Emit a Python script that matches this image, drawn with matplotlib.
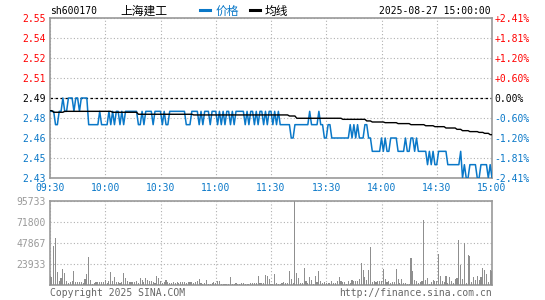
import numpy as np
import matplotlib
matplotlib.use("Agg")
import matplotlib.pyplot as plt
from matplotlib.lines import Line2D

# sh600170 intraday, 2025-08-27
code = "sh600170"
name = "上海建工"
stamp = "2025-08-27 15:00:00"
prev_close = 2.49

# price per minute as (price, minutes) runs
price_runs = [
    (2.48, 3), (2.47, 2), (2.48, 2), (2.49, 1), (2.48, 2), (2.49, 3), (2.48, 1),
    (2.49, 2), (2.48, 1), (2.49, 4), (2.47, 6), (2.48, 1), (2.47, 4), (2.48, 1),
    (2.47, 1), (2.48, 1), (2.47, 1), (2.48, 2), (2.47, 1), (2.48, 1), (2.47, 1),
    (2.48, 7), (2.47, 2), (2.48, 1), (2.47, 1), (2.48, 4), (2.47, 1), (2.48, 4),
    (2.47, 1), (2.48, 1), (2.47, 2), (2.48, 9), (2.47, 3), (2.48, 4), (2.47, 1),
    (2.48, 1), (2.47, 1), (2.48, 3), (2.47, 1), (2.48, 3), (2.47, 1), (2.48, 1),
    (2.47, 1), (2.48, 1), (2.47, 1), (2.48, 2), (2.47, 1), (2.48, 1), (2.47, 1),
    (2.48, 5), (2.47, 1), (2.48, 1), (2.47, 1), (2.48, 2), (2.47, 1), (2.48, 1),
    (2.47, 1), (2.48, 2), (2.47, 1), (2.48, 1), (2.47, 1), (2.48, 2), (2.47, 1),
    (2.48, 1), (2.47, 1), (2.48, 1), (2.47, 6), (2.46, 2), (2.47, 8), (2.48, 1),
    (2.47, 4), (2.48, 1), (2.47, 2), (2.46, 2), (2.47, 2), (2.46, 10), (2.47, 1),
    (2.46, 1), (2.47, 1), (2.46, 1), (2.47, 1), (2.46, 3), (2.47, 2), (2.46, 2),
    (2.45, 5), (2.46, 1), (2.45, 1), (2.46, 1), (2.45, 2), (2.46, 4), (2.45, 4),
    (2.46, 1), (2.45, 2), (2.46, 2), (2.45, 1), (2.46, 1), (2.45, 5), (2.44, 1),
    (2.45, 1), (2.44, 1), (2.45, 1), (2.44, 2), (2.45, 5), (2.44, 7), (2.45, 1),
    (2.43, 1), (2.44, 1), (2.43, 2), (2.44, 4), (2.43, 2), (2.44, 4), (2.43, 1),
    (2.44, 1), (2.43, 1),
]

# average price line as (value, minutes) runs
avg_runs = [
    (2.4805, 2), (2.4793, 6), (2.4800, 26), (2.4793, 14), (2.4778, 30),
    (2.4773, 52), (2.4765, 4), (2.4748, 25), (2.4740, 13), (2.4728, 3),
    (2.4720, 7), (2.4715, 7), (2.4708, 7), (2.4700, 8), (2.4692, 5),
    (2.4685, 6), (2.4675, 6), (2.4665, 3), (2.4655, 4), (2.4648, 5),
    (2.4642, 3), (2.4635, 3), (2.4625, 2),
]

volume = [
    10000, 9000, 44500, 53600, 15000, 4500, 8000, 18000, 13500, 4500,
    2200, 3800, 4500, 16000, 3400, 3400, 3400, 3400, 2200, 6800,
    12500, 32000, 5700, 1500, 2200, 3400, 3400, 3400, 3400, 3400,
    5700, 2200, 4500, 14800, 4500, 9000, 3400, 3400, 2200, 3400,
    13700, 8000, 4500, 3400, 3400, 3400, 3400, 4500, 2200, 8000,
    5700, 3400, 8000, 5700, 4500, 4500, 3400, 2200, 10000, 8000,
    4500, 2200, 3400, 5700, 3400, 2200, 2200, 3400, 2200, 3400,
    2200, 3400, 3400, 3400, 2200, 3400, 3400, 3400, 2200, 3400,
    4500, 6800, 2200, 1500, 2200, 5700, 1500, 1500, 2200, 3400,
    2200, 4500, 4500, 1500, 1500, 1500, 1500, 1500, 9000, 1500,
    1500, 2200, 1500, 1500, 2200, 2200, 1500, 1500, 1500, 2200,
    2200, 2200, 2200, 10000, 2200, 2200, 2200, 11000, 10000, 6800,
    1500, 1500, 12500, 2200, 1500, 1500, 2200, 3400, 2200, 2200,
    16000, 6800, 2200, 95733, 13700, 8000, 2200, 2200, 19400, 4500,
    2200, 9000, 5700, 1500, 10000, 3400, 16000, 4500, 2200, 3400,
    2200, 2200, 2200, 4500, 2200, 2200, 4500, 9000, 4500, 3400,
    3400, 1500, 4500, 2200, 5700, 4500, 4500, 4500, 6800, 25000,
    17000, 9000, 5700, 17000, 43300, 3400, 4500, 3400, 4500, 4500,
    4500, 18000, 6800, 3400, 4500, 2200, 3400, 3400, 18000, 6800,
    2200, 6800, 2200, 2200, 1500, 700, 30800, 16000, 5700, 4500,
    2200, 3400, 4500, 74500, 5700, 8000, 1500, 3400, 5700, 4500,
    4500, 35300, 10000, 4500, 3400, 10000, 2200, 9000, 4500, 2200,
    6800, 8000, 51300, 22800, 6800, 47900, 2200, 34200, 33000, 3400,
    9000, 5700, 10000, 5700, 9000, 19400, 17000, 12500, 3400, 17000, 16000,
]

time_labels = ["09:30", "10:00", "10:30", "11:00", "11:30",
               "13:30", "14:00", "14:30", "15:00"]
price_labels = ["2.55", "2.54", "2.52", "2.51", "2.49", "2.48", "2.46", "2.45", "2.43"]
pct_labels = ["+2.41%", "+1.81%", "+1.20%", "+0.60%", "0.00%",
              "-0.60%", "-1.20%", "-1.81%", "-2.41%"]
vol_labels = ["23933", "47867", "71800", "95733"]

price = np.repeat([p for p, n in price_runs], [n for p, n in price_runs])
avg = np.repeat([p for p, n in avg_runs], [n for p, n in avg_runs])

BLUE = "#0a78c8"
RED = "#ff0000"
GRAY = "#999999"
MONO = "DejaVu Sans Mono"
CJK = ["Noto Sans CJK SC", "DejaVu Sans"]

W, H = 545, 300
fig = plt.figure(figsize=(W / 100, H / 100), dpi=100)
fig.patch.set_facecolor("white")


def box(x0, y0, x1, y1):
    return [x0 / W, 1 - y1 / H, (x1 - x0) / W, (y1 - y0) / H]


ax = fig.add_axes(box(50, 18, 492, 178))
axv = fig.add_axes(box(50, 201, 492, 285))

xt = np.linspace(0, 240, 9)
ylo, yhi = 2.43, 2.55
yt = np.linspace(yhi, ylo, 9)

for a in (ax, axv):
    a.set_xlim(0, 240)
    for s in a.spines.values():
        s.set_color(GRAY)
        s.set_linewidth(1.2)
    a.set_xticks(xt)
    a.tick_params(length=0)
    a.grid(True, color="#b0b0b0", linestyle=(0, (1, 2)), linewidth=0.8)
    a.set_axisbelow(True)

# price panel
ax.set_ylim(ylo, yhi)
ax.set_yticks(yt)
ax.set_yticklabels(price_labels, fontfamily=MONO, fontsize=7)
ax.set_xticklabels(time_labels, fontfamily=MONO, fontsize=7, color=BLUE)
ax.tick_params(axis="y", pad=3)
ax.tick_params(axis="x", pad=3.5)
for lab, v in zip(ax.get_yticklabels(), yt):
    lab.set_color(RED if v > prev_close + 1e-9 else (BLUE if v < prev_close - 1e-9 else "black"))

ax.axhline(prev_close, color="black", linestyle=(0, (2, 2)), linewidth=0.9, zorder=2)
ax.plot(np.arange(len(price)), price, color=BLUE, linewidth=1.1, zorder=3)
ax.plot(np.arange(len(avg)), avg, color="black", linewidth=1.0, zorder=4)

ax2 = ax.twinx()
ax2.set_ylim(ylo, yhi)
ax2.set_yticks(yt)
ax2.set_yticklabels(pct_labels, fontfamily=MONO, fontsize=7)
ax2.tick_params(length=0, pad=2)
for s in ax2.spines.values():
    s.set_visible(False)
for lab, v in zip(ax2.get_yticklabels(), yt):
    lab.set_color(RED if v > prev_close + 1e-9 else (BLUE if v < prev_close - 1e-9 else "black"))

# volume panel
vmax = 95733
axv.set_ylim(0, vmax)
axv.set_yticks(np.linspace(0, vmax, 5))
axv.set_yticklabels([""] + vol_labels, fontfamily=MONO, fontsize=7, color=GRAY)
axv.set_xticklabels([])
axv.tick_params(axis="y", pad=3)
axv.bar(np.arange(len(volume)), volume, width=0.6, color="#8f8f8f",
        antialiased=False, zorder=3)

# header
ty = 1 - 11.5 / H
fig.text(50 / W, ty, code, fontfamily=MONO, fontsize=7, va="center", ha="left")
fig.text(120 / W, ty, name, fontfamily=CJK, fontsize=8.5, va="center", ha="left")
fig.add_artist(Line2D([200 / W, 210 / W], [1 - 9.5 / H] * 2, color=BLUE, linewidth=2.2))
fig.text(216 / W, ty, "价格", fontfamily=CJK, fontsize=8.5, va="center", ha="left", color=BLUE)
fig.add_artist(Line2D([250 / W, 260 / W], [1 - 9.5 / H] * 2, color="black", linewidth=2.2))
fig.text(265 / W, ty, "均线", fontfamily=CJK, fontsize=8.5, va="center", ha="left")
fig.text(491 / W, ty, stamp, fontfamily=MONO, fontsize=7, va="center", ha="right")

# footer
fy = 1 - 293.5 / H
fig.text(50 / W, fy, "Copyright 2025 SINA.COM", fontfamily=MONO, fontsize=7,
         color="#666666", va="center", ha="left")
fig.text(492 / W, fy, "http://finance.sina.com.cn", fontfamily=MONO, fontsize=7,
         color="#666666", va="center", ha="right")

fig.savefig("out.png", dpi=100, facecolor="white")
